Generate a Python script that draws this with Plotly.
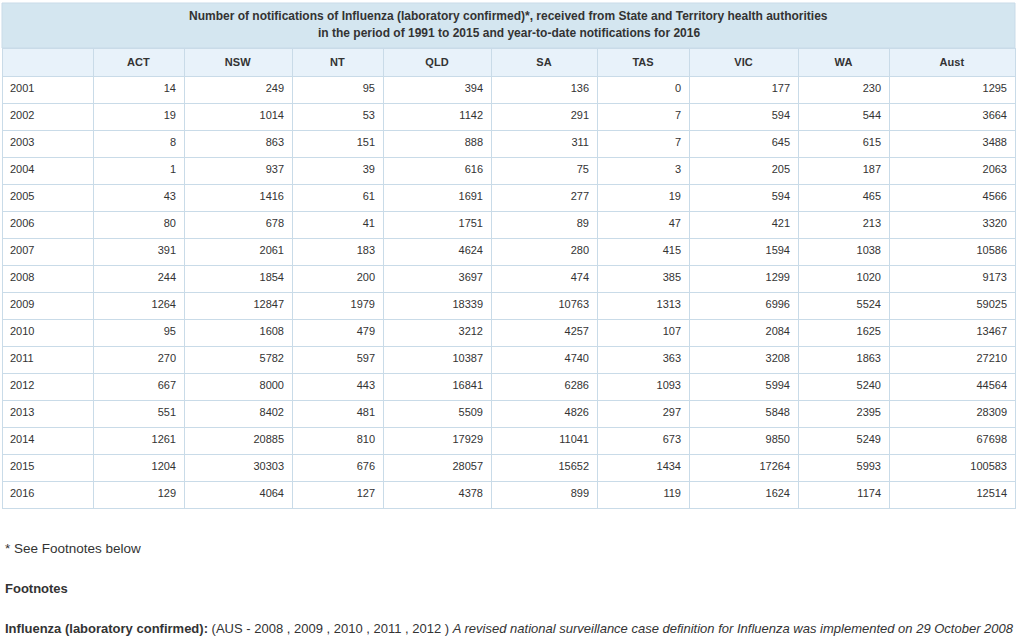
import plotly.graph_objects as go

W, H = 1021, 639

years = ["2001", "2002", "2003", "2004", "2005", "2006", "2007", "2008",
         "2009", "2010", "2011", "2012", "2013", "2014", "2015", "2016"]
states = ["ACT", "NSW", "NT", "QLD", "SA", "TAS", "VIC", "WA", "Aust"]

act = [14, 19, 8, 1, 43, 80, 391, 244, 1264, 95, 270, 667, 551, 1261, 1204, 129]
nsw = [249, 1014, 863, 937, 1416, 678, 2061, 1854, 12847, 1608, 5782, 8000, 8402, 20885, 30303, 4064]
nt = [95, 53, 151, 39, 61, 41, 183, 200, 1979, 479, 597, 443, 481, 810, 676, 127]
qld = [394, 1142, 888, 616, 1691, 1751, 4624, 3697, 18339, 3212, 10387, 16841, 5509, 17929, 28057, 4378]
sa = [136, 291, 311, 75, 277, 89, 280, 474, 10763, 4257, 4740, 6286, 4826, 11041, 15652, 899]
tas = [0, 7, 7, 3, 19, 47, 415, 385, 1313, 107, 363, 1093, 297, 673, 1434, 119]
vic = [177, 594, 645, 205, 594, 421, 1594, 1299, 6996, 2084, 3208, 5994, 5848, 9850, 17264, 1624]
wa = [230, 544, 615, 187, 465, 213, 1038, 1020, 5524, 1625, 1863, 5240, 2395, 5249, 5993, 1174]
aust = [1295, 3664, 3488, 2063, 4566, 3320, 10586, 9173, 59025, 13467, 27210, 44564, 28309, 67698, 100583, 12514]

title_lines = [
    "Number of notifications of Influenza (laboratory confirmed)*, received from State and Territory health authorities",
    "in the period of 1991 to 2015 and year-to-date notifications for 2016",
]

FONT = "Liberation Sans, Arial, sans-serif"
BORDER = "#c9dbe8"

# table pixel geometry
left, right = 2, 1015
top_title, top_head = 3, 48
col_w = [91, 91, 108, 91, 108, 106, 92, 109, 91, 126]

fig = go.Figure()

fig.add_trace(go.Table(
    domain=dict(x=[left / W, right / W], y=[1 - 530 / H, 1 - top_head / H]),
    columnwidth=col_w,
    header=dict(
        values=[""] + ["<b>%s</b>" % s for s in states],
        fill_color="#e8f2fa",
        line_color=BORDER,
        align="center",
        height=27,
        font=dict(family=FONT, size=11, color="#333333"),
    ),
    cells=dict(
        values=[years, act, nsw, nt, qld, sa, tas, vic, wa, aust],
        fill_color="white",
        line_color=BORDER,
        align=["left"] + ["right"] * 9,
        height=27,
        font=dict(family=FONT, size=11, color="#333333"),
    ),
))

# title band across the top of the table
fig.add_shape(type="rect", xref="paper", yref="paper",
              x0=left / W, x1=right / W, y0=1 - top_head / H, y1=1 - top_title / H,
              fillcolor="#d4e6f0", line=dict(color=BORDER, width=1), layer="below")
for y, txt in zip([16, 33], title_lines):
    fig.add_annotation(x=(left + right) / 2 / W, y=1 - y / H, xref="paper", yref="paper",
                       text="<b>" + txt + "</b>", showarrow=False,
                       xanchor="center", yanchor="middle",
                       font=dict(family=FONT, size=12, color="#333333"))

# footnotes
notes = [
    (548, "* See Footnotes below", 13.5),
    (588, "<b>Footnotes</b>", 13),
    (628, "<b>Influenza (laboratory confirmed):</b> (AUS - 2008 , 2009 , 2010 , 2011 , 2012 ) "
          "<i>A revised national surveillance case definition for Influenza was implemented on 29 October 2008</i>", 13),
]
for y, txt, fs in notes:
    fig.add_annotation(x=3 / W, y=1 - y / H, xref="paper", yref="paper", text=txt,
                       showarrow=False, xanchor="left", yanchor="middle", align="left",
                       font=dict(family=FONT, size=fs, color="#333333"))

fig.update_layout(
    width=W, height=H,
    margin=dict(l=0, r=0, t=0, b=0),
    paper_bgcolor="white",
    plot_bgcolor="white",
)

fig.write_html("out.html", config={"displayModeBar": False},
               post_script="document.body.style.margin='0';")
